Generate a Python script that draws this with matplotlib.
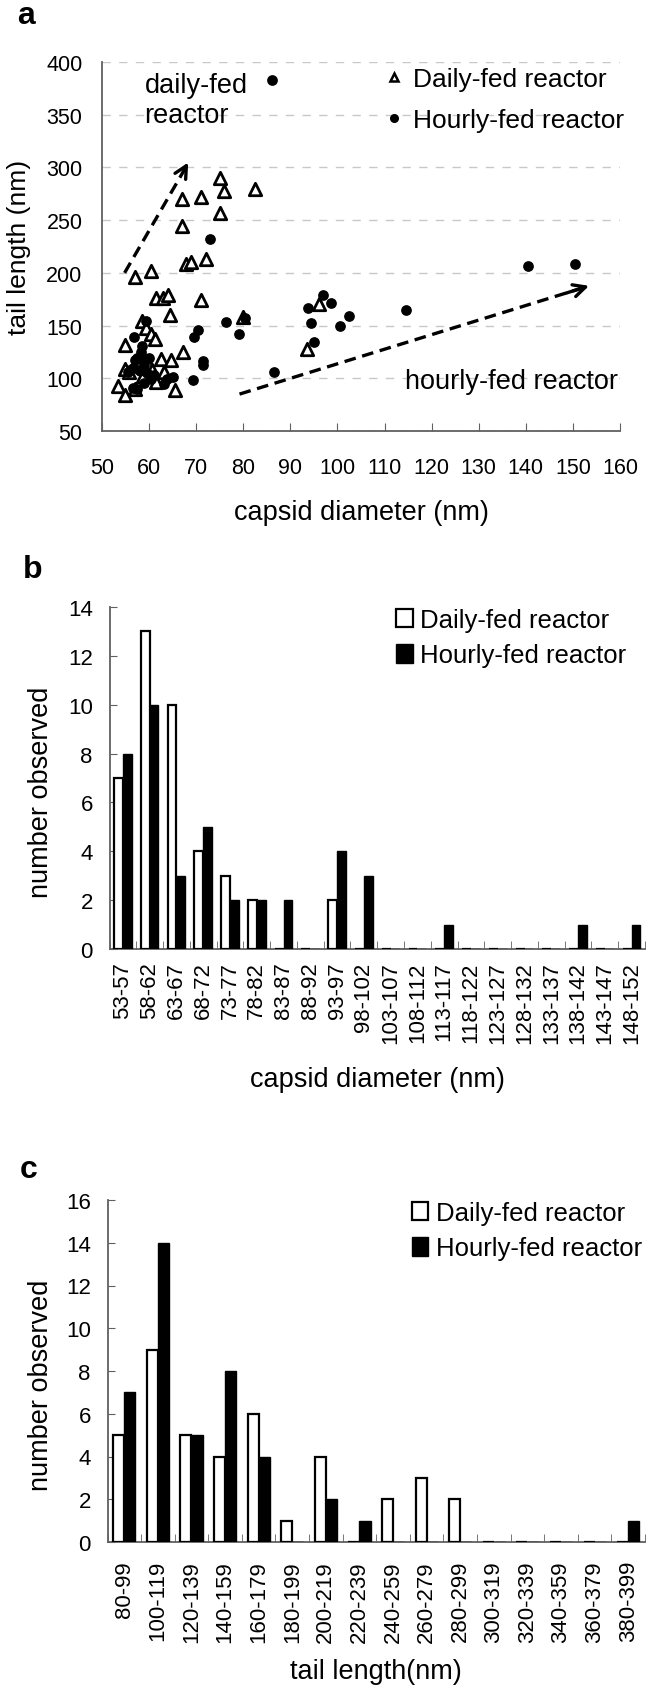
import matplotlib.pyplot as plt
import numpy as np
from matplotlib.lines import Line2D
from matplotlib.patches import Patch

plt.rcParams['font.family'] = ['Liberation Sans', 'DejaVu Sans']

# panel a: capsid diameter / tail length of single particles
daily_diam = [75, 76, 82.5, 67, 71, 75, 67, 67.8, 68.8, 72, 57, 60.5, 61.5, 63, 64, 71, 64.5, 96, 80,
              58.4, 59.4, 60.3, 61.2, 54.8, 93.6, 67.2, 62.5, 64.6, 58.5, 59.7, 54.8, 55.7, 53.3, 54.8,
              57, 65.4, 58.8, 60.7, 63.2, 61.4, 59]
daily_tail = [290, 278, 280, 270, 272, 257, 244, 208, 210, 213, 196, 202, 176, 176, 179, 174, 160, 170, 158,
              154.5, 148, 142, 137.6, 131.5, 128, 125, 118.7, 117, 122, 114, 108.5, 105.8, 93, 83.8,
              90, 89, 101.7, 108, 106, 96.7, 110]
hourly_diam = [86, 73, 140.4, 150.5, 97, 93.7, 98.6, 114.5, 102.5, 94.4, 100.6, 95, 76.4, 79, 80.4, 70.4,
               69.6, 71.4, 71.4, 69.3, 86.5, 59.3, 56.8, 58.6,
               55.5, 56.5, 57, 57.5, 56.5, 57.5, 57.8, 58.2, 58.5, 59, 59.5, 60, 60.5, 59, 61, 63.2, 63.8, 65]
hourly_tail = [383, 232, 206.6, 208, 179, 167, 171, 165, 159, 152, 150, 134, 153.5, 141.6, 157, 146,
               139, 116, 112.5, 98.4, 106, 154.6, 139, 131,
               106, 110, 117, 119, 91, 90, 108, 125, 118, 113, 105, 119, 99, 96, 103, 95, 99, 101]

# panel b: capsid diameter histogram
diam_bins = ["53-57", "58-62", "63-67", "68-72", "73-77", "78-82", "83-87", "88-92", "93-97", "98-102",
             "103-107", "108-112", "113-117", "118-122", "123-127", "128-132", "133-137", "138-142",
             "143-147", "148-152"]
diam_daily = [7, 13, 10, 4, 3, 2, 0, 0, 2, 0, 0, 0, 0, 0, 0, 0, 0, 0, 0, 0]
diam_hourly = [8, 10, 3, 5, 2, 2, 2, 0, 4, 3, 0, 0, 1, 0, 0, 0, 0, 1, 0, 1]

# panel c: tail length histogram
tail_bins = ["80-99", "100-119", "120-139", "140-159", "160-179", "180-199", "200-219", "220-239",
             "240-259", "260-279", "280-299", "300-319", "320-339", "340-359", "360-379", "380-399"]
tail_daily = [5, 9, 5, 4, 6, 1, 4, 0, 2, 3, 2, 0, 0, 0, 0, 0]
tail_hourly = [7, 14, 5, 8, 4, 0, 2, 1, 0, 0, 0, 0, 0, 0, 0, 1]

W, H = 650, 1699
fig = plt.figure(figsize=(W / 100, H / 100), dpi=100)

def box(l, t, r, b):
    return [l / W, 1 - b / H, (r - l) / W, (b - t) / H]

axis_col = '#606060'

def style_spines(ax):
    for s in ['top', 'right']:
        ax.spines[s].set_visible(False)
    for s in ['left', 'bottom']:
        ax.spines[s].set_color(axis_col)
        ax.spines[s].set_linewidth(1.3)

# ---------- a ----------
ax = fig.add_axes(box(102, 63, 620, 432))
style_spines(ax)
ax.set_xlim(50, 160)
ax.set_ylim(50, 400)
ax.set_xticks(np.arange(50, 161, 10))
ax.set_yticks(np.arange(50, 401, 50))
ax.yaxis.grid(True, linestyle=(0, (6, 6)), color='#c8c8c8', lw=1)
ax.set_axisbelow(True)
ax.tick_params(axis='x', direction='in', length=6, color=axis_col, labelsize=15.5, pad=19)
ax.tick_params(axis='y', length=0, labelsize=15.5, pad=14)
ax.scatter(daily_diam, daily_tail, marker='^', s=80, facecolors='white', edgecolors='black',
           linewidths=2.0, zorder=3)
ax.scatter(hourly_diam, hourly_tail, marker='o', s=45, color='black', zorder=3)

# dashed trend arrows
dash = (0, (3.5, 2))
ax.plot([54.8, 68.3], [200, 304], ls=dash, color='black', lw=2.4)
ax.annotate('', xy=(68.6, 307), xytext=(67.2, 296),
            arrowprops=dict(arrowstyle='->', color='black', lw=2.4, mutation_scale=22))
ax.plot([79.2, 153], [85, 187], ls=dash, color='black', lw=2.4)
ax.annotate('', xy=(154, 188.5), xytext=(148, 180),
            arrowprops=dict(arrowstyle='->', color='black', lw=2.4, mutation_scale=22))

ax.text(59, 364, 'daily-fed\nreactor', fontsize=19.5, va='center', ha='left', linespacing=1.2)
ax.text(159.5, 97, 'hourly-fed reactor', fontsize=19.5, va='center', ha='right')
ax.set_xlabel('capsid diameter (nm)', fontsize=19.5)
ax.xaxis.set_label_coords(0.5, -0.184)
ax.set_ylabel('tail length (nm)', fontsize=19)
ax.yaxis.set_label_coords(-0.137, 0.5)
hs = [Line2D([], [], ls='none', marker='^', ms=6, mfc='white', mec='black', mew=1.8),
      Line2D([], [], ls='none', marker='o', ms=5.5, color='black')]
ax.legend(hs, ['Daily-fed reactor', 'Hourly-fed reactor'], loc='upper left',
          bbox_to_anchor=(0.517, 1.022), frameon=False, fontsize=19, handlelength=0.8,
          handletextpad=0.35, labelspacing=0.65, borderpad=0)
fig.text(17 / W, 1 - 16 / H, 'a', fontsize=23, fontweight='bold', va='center', ha='left')

# ---------- b, c ----------
def hist_panel(rect, cats, d_vals, h_vals, ymax, xlabel, xl_y, yl_x, leg_anchor, letter, letter_xy, tpad):
    ax = fig.add_axes(box(*rect))
    style_spines(ax)
    x = np.arange(len(cats))
    w = 0.33
    ax.bar(x - w / 2, d_vals, w, facecolor='white', edgecolor='black', lw=1.6, zorder=3)
    ax.bar(x + w / 2, h_vals, w, color='black', edgecolor='black', lw=1.0, zorder=3)
    ax.set_xlim(-0.5, len(cats) - 0.5)
    ax.set_ylim(0, ymax)
    ax.set_yticks(np.arange(0, ymax + 1, 2))
    ax.set_xticks(x)
    ax.set_xticklabels(cats, rotation=90, fontsize=16)
    ax.set_xticks(np.arange(-0.5, len(cats), 1), minor=True)
    ax.tick_params(axis='x', which='major', length=0, pad=tpad)
    ax.tick_params(axis='x', which='minor', direction='in', length=6, color=axis_col)
    ax.tick_params(axis='y', direction='in', length=5, color=axis_col, labelsize=16, pad=12)
    ax.set_xlabel(xlabel, fontsize=19.5)
    ax.xaxis.set_label_coords(0.5, xl_y)
    ax.set_ylabel('number observed', fontsize=19.5)
    ax.yaxis.set_label_coords(yl_x, 0.46)
    hs = [Patch(facecolor='white', edgecolor='black', lw=1.6), Patch(facecolor='black', edgecolor='black')]
    ax.legend(hs, ['Daily-fed reactor', 'Hourly-fed reactor'], loc='upper left',
              bbox_to_anchor=leg_anchor, frameon=False, fontsize=18.5, handlelength=0.65,
              handleheight=0.75, handletextpad=0.3, labelspacing=0.45, borderpad=0)
    fig.text(letter_xy[0] / W, 1 - letter_xy[1] / H, letter, fontsize=23, fontweight='bold',
             va='center', ha='left')
    return ax

hist_panel((109.5, 608, 645, 950), diam_bins, diam_daily, diam_hourly, 14, 'capsid diameter (nm)',
           -0.342, -0.104, (0.511, 1.035), 'b', (23, 570), 9)
hist_panel((107.5, 1201, 645, 1543), tail_bins, tail_daily, tail_hourly, 16, 'tail length(nm)',
           -0.339, -0.0995, (0.542, 1.035), 'c', (20, 1170), 13)

fig.savefig('out.png', dpi=100)
